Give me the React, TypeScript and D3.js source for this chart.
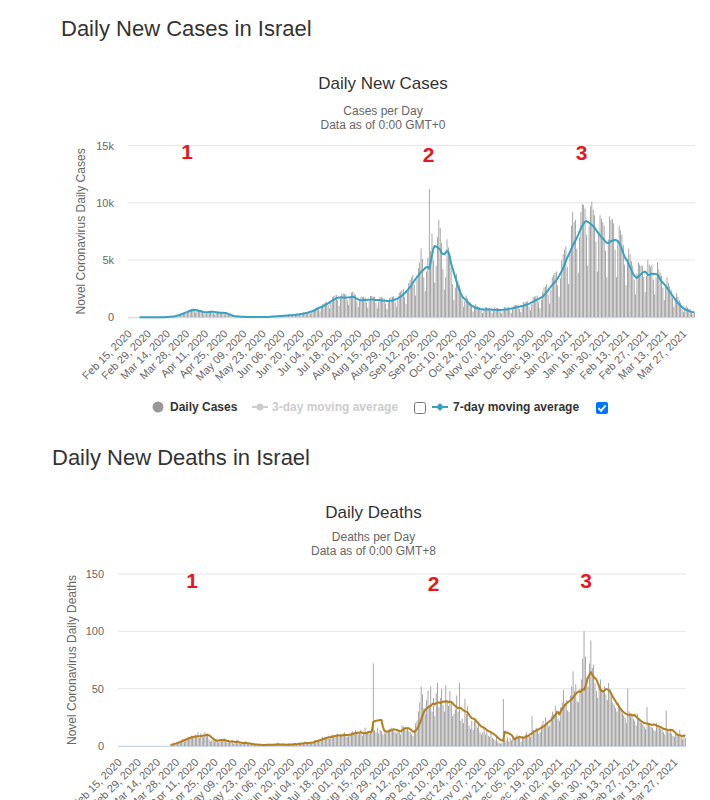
import React from 'react';
import * as d3 from 'd3';

// ---------- categories & labels ----------
const fmt = d3.timeFormat('%b %d, %Y');
const CATEGORIES: string[] = d3.timeDay.range(new Date(2020, 1, 15), new Date(2021, 3, 5)).map(fmt);

const X_TICK_LABELS = [
  'Feb 15, 2020', 'Feb 29, 2020', 'Mar 14, 2020', 'Mar 28, 2020', 'Apr 11, 2020', 'Apr 25, 2020',
  'May 09, 2020', 'May 23, 2020', 'Jun 06, 2020', 'Jun 20, 2020', 'Jul 04, 2020', 'Jul 18, 2020',
  'Aug 01, 2020', 'Aug 15, 2020', 'Aug 29, 2020', 'Sep 12, 2020', 'Sep 26, 2020', 'Oct 10, 2020',
  'Oct 24, 2020', 'Nov 07, 2020', 'Nov 21, 2020', 'Dec 05, 2020', 'Dec 19, 2020', 'Jan 02, 2021',
  'Jan 16, 2021', 'Jan 30, 2021', 'Feb 13, 2021', 'Feb 27, 2021', 'Mar 13, 2021', 'Mar 27, 2021',
];

const CASES_Y_TICKS = [0, 5000, 10000, 15000];
const CASES_Y_LABELS = ['0', '5k', '10k', '15k'];
const DEATHS_Y_TICKS = [0, 50, 100, 150];
const DEATHS_Y_LABELS = ['0', '50', '100', '150'];

// ---------- daily new cases (one value per day, Feb 15 2020 .. Apr 4 2021) ----------
const DAILY_CASES = [
  0,0,0,0,0,0,1,
  0,0,0,1,0,1,1,
  1,0,2,1,3,2,4,
  3,4,8,10,14,18,20,
  14,30,48,60,80,95,110,
  90,160,240,290,350,400,420,
  320,470,620,700,740,760,700,
  420,560,680,640,590,530,430,
  260,420,540,560,580,540,380,
  260,400,500,490,470,450,320,
  230,360,420,370,300,230,150,
  70,100,110,90,70,60,40,
  25,40,45,38,34,30,20,
  12,20,25,22,22,22,15,
  10,22,30,40,48,55,45,
  35,70,95,110,125,130,110,
  80,125,170,180,190,200,160,
  110,190,250,270,290,300,230,
  170,290,400,430,460,490,400,
  300,500,680,730,820,880,700,
  520,850,1150,1230,1300,1380,1050,
  780,1300,1750,1830,1920,1950,1500,
  1000,1650,2050,2080,2050,1980,1500,
  1100,1700,2150,2240,2100,1950,1400,
  900,1400,1800,1780,1780,1750,1300,
  850,1450,1850,1870,1800,1780,1250,
  800,1400,1800,1760,1720,1650,1200,
  750,1300,1700,1750,1800,1850,1350,
  900,1550,2150,2250,2350,2450,1800,
  1200,2200,3000,3250,3500,3700,2800,
  1900,3300,4300,4800,6000,5100,3500,
  2300,4000,5200,11200,5800,7300,5000,
  3000,4500,7000,8500,7800,6500,4200,
  2400,3500,6800,6100,5300,4400,2900,
  1500,2600,3800,3200,2800,2500,1800,
  900,1400,1900,1650,1450,1300,900,
  500,850,1150,1000,900,880,600,
  380,650,900,880,830,820,550,
  350,600,850,820,800,780,520,
  330,620,880,850,860,880,620,
  380,720,1050,1080,1080,1100,750,
  450,900,1300,1350,1350,1400,950,
  600,1150,1750,1800,1850,1900,1300,
  800,1500,2200,2600,2700,2900,2000,
  1200,2400,3500,3700,3900,4000,2800,
  1800,3400,5000,5500,5900,6200,4400,
  2900,5500,8000,9200,8300,8500,6000,
  3900,7000,9200,9900,9800,9500,7200,
  4500,8000,9700,10100,9400,8900,6600,
  4000,7500,8900,8600,8300,8000,5800,
  3500,6800,8800,8500,8600,8200,5900,
  3500,6600,8000,7600,7200,6300,4600,
  2800,5100,6000,5500,4900,4500,3300,
  2000,3800,4800,4600,4500,4500,3500,
  2200,3600,5000,4600,4400,4600,3300,
  2000,3500,4800,4200,3900,3600,2600,
  1500,2700,3500,3000,2700,2400,1700,
  900,1700,2100,1800,1500,1300,900,
  450,800,1000,850,750,700,480,
  280,450,
];

// ---------- 7-day moving average of cases ----------
const CASES_7DAY: (number | null)[] = [
  null,null,null,null,null,null,null,
  null,0,0,0,0,0,1,
  1,1,1,1,2,2,3,
  3,4,6,8,11,14,19,
  25,32,40,50,62,78,100,
  130,165,200,240,285,330,380,
  430,480,530,570,600,640,650,
  640,610,580,550,520,490,460,
  440,445,455,470,480,478,480,
  470,445,420,410,405,400,395,
  385,380,340,300,250,200,150,
  120,100,85,70,60,52,46,
  42,38,34,30,28,26,24,
  22,20,19,18,18,19,20,
  20,22,25,30,36,44,52,
  60,70,80,90,100,108,116,
  124,132,140,150,160,170,180,
  190,200,212,225,238,250,265,
  285,305,330,350,380,410,445,
  480,520,560,600,680,740,800,
  860,900,960,1020,1080,1150,1220,
  1300,1380,1450,1520,1600,1650,1700,
  1720,1740,1735,1730,1720,1710,1720,
  1740,1760,1780,1800,1760,1700,1620,
  1560,1510,1480,1490,1500,1510,1520,
  1530,1540,1550,1560,1545,1530,1520,
  1510,1500,1490,1480,1460,1450,1440,
  1430,1425,1420,1440,1470,1510,1550,
  1600,1660,1730,1800,1880,1980,2100,
  2230,2360,2500,2650,2820,3000,3170,
  3340,3500,3660,3820,3950,4070,4180,
  4300,4380,4400,4250,4800,5400,6000,
  6230,6180,6100,6000,5900,5600,5550,
  5500,5650,5800,5700,5300,4700,4300,
  3900,3500,3100,2700,2400,2100,1850,
  1700,1600,1450,1320,1200,1100,1020,
  950,880,830,790,760,730,710,
  700,690,690,685,680,680,675,
  670,660,650,645,640,640,645,
  650,660,670,690,710,725,740,
  760,790,820,850,880,900,930,
  960,990,1020,1050,1090,1130,1180,
  1240,1300,1360,1420,1490,1550,1610,
  1670,1730,1800,1920,2050,2200,2350,
  2520,2700,2820,2950,3100,3250,3420,
  3600,3820,4050,4300,4600,4900,5200,
  5450,5700,6000,6250,6480,6700,6950,
  7200,7500,7750,8000,8200,8330,8400,
  8350,8250,8150,8050,7950,7800,7650,
  7450,7300,7150,7000,6900,6750,6600,
  6500,6480,6550,6650,6700,6720,6750,
  6720,6650,6500,6250,5950,5600,5300,
  5050,4900,4650,4380,4100,3850,3650,
  3500,3450,3550,3650,3750,3880,3950,
  4000,3850,3700,3720,3760,3800,3800,
  3790,3780,3700,3550,3300,3150,3020,
  2900,2750,2580,2400,2220,2060,1900,
  1720,1560,1400,1260,1120,1000,900,
  800,720,660,610,560,520,480,
  450,420,
];

// ---------- daily deaths ----------
const DAILY_DEATHS = [
  0,0,0,0,0,0,0,
  0,0,0,0,0,0,0,
  0,0,0,0,0,0,0,
  0,0,0,0,0,0,0,
  0,0,0,0,0,0,0,
  0,0,0,1,1,1,2,
  2,3,4,3,5,6,4,
  6,7,8,6,9,7,8,
  10,8,12,7,11,9,8,
  12,10,11,6,4,5,6,
  4,6,5,3,6,4,5,
  7,5,3,4,4,3,5,
  2,4,5,3,3,2,3,
  3,2,4,2,2,2,1,
  1,2,1,1,1,2,1,
  0,1,1,1,1,2,1,
  1,1,2,1,3,1,1,
  1,2,1,1,1,2,2,
  1,2,2,2,1,2,3,
  2,3,2,4,3,2,3,
  2,3,4,5,5,4,6,
  4,6,8,7,8,7,9,
  6,9,10,9,8,10,11,
  8,10,9,11,12,10,8,
  9,11,12,13,11,14,12,
  10,12,14,9,11,16,12,
  13,11,12,15,72,14,12,
  16,11,14,13,10,12,11,
  12,14,15,16,14,13,12,
  11,15,13,10,18,17,16,
  14,16,13,12,10,9,14,
  20,22,30,38,52,45,33,
  28,40,48,36,52,30,42,
  26,46,55,34,42,50,36,
  30,53,40,35,48,38,26,
  28,32,44,30,55,22,24,
  20,41,28,35,18,15,22,
  14,22,24,16,20,12,10,
  12,15,10,14,9,8,11,
  7,6,5,8,4,3,2,
  3,41,6,5,8,4,7,
  5,9,6,8,10,7,9,
  4,8,7,10,12,9,11,
  8,26,14,12,16,15,11,
  12,18,22,19,25,21,17,
  18,26,30,28,35,31,24,
  22,34,38,49,37,40,31,
  30,44,52,65,48,54,39,
  38,50,58,76,100,78,60,
  52,72,92,68,71,55,48,
  42,54,58,50,47,52,45,
  40,55,50,44,38,36,33,
  30,38,35,32,29,27,25,
  20,50,30,26,28,24,22,
  18,28,24,22,20,19,17,
  15,34,20,18,17,16,14,
  13,20,18,16,15,14,12,
  10,31,14,12,15,11,9,
  8,12,10,9,14,8,6,
  10,7,
];

// ---------- 7-day moving average of deaths ----------
const DEATHS_7DAY: (number | null)[] = [
  null,null,null,null,null,null,null,
  null,null,null,null,null,null,null,
  null,null,null,null,null,null,null,
  null,null,null,null,null,null,null,
  null,null,null,null,null,null,null,
  null,null,null,1,1.3,1.6,2,
  2.3,2.7,3.1,3.6,4.1,4.6,5.1,
  5.6,6.1,6.6,7,7.4,7.8,8.1,
  8.3,8.4,8.5,8.6,8.7,8.9,9.2,
  9.4,9.6,9.6,9.3,8.5,7.4,6.5,
  5.6,5,4.6,4.7,5,5.2,5,
  5.2,5,4.6,4.3,4,3.9,4.1,
  3.8,3.5,3.6,3.9,3.4,3,2.8,
  2.7,2.6,2.9,2.5,2.3,2.2,2,
  1.8,1.6,1.4,1.3,1.2,1.1,1,
  0.9,0.9,0.9,1,1,1.1,1,
  1,1.1,1.1,1.3,1.4,1.6,1.3,
  1.3,1.4,1.3,1.2,1.1,1.3,1.4,
  1.4,1.4,1.6,1.7,1.6,1.7,1.9,
  2,2.1,2.3,2.4,2.6,2.7,2.7,
  2.8,2.9,3.1,3.4,3.9,4.3,4.6,
  5,5.5,5.9,6.3,6.7,7.1,7.4,
  7.6,7.8,8.1,8.4,8.7,8.9,9.1,
  9.1,9.3,9.2,9.4,9.6,9.7,9.6,
  9.7,9.9,10.1,10.4,10.9,11.3,11.4,
  11.6,11.7,11.9,11.6,11.4,11.1,11.4,
  11.8,12.3,12.5,12.6,21,21.6,22,
  22.2,22.4,22.7,22.6,17,13.5,12.8,
  12.5,12.8,13.2,13.6,14.2,14.6,14.3,
  14,13.6,13.2,12.8,13.5,14.6,15.3,
  15.5,15.6,15.4,14.6,13.8,12.7,12.5,
  13.5,15,17,20,23,26.5,29.5,
  31.5,32.8,33.8,34.5,35,36.3,37.2,
  36.5,37.3,37.9,38,37.4,38.2,38.8,
  38.5,39,38.8,38.2,38.8,38.5,37.3,
  36,34.8,33.6,33,33.5,33,32,
  31,30.3,30,29,27.5,25.5,24.2,
  24,23.5,22,21,19.5,18,16.9,
  16.5,15.8,15,14,13.2,12.5,12,
  11.2,10.5,9.6,8.5,7.4,6.3,5.2,
  5,4.4,12.5,11.6,11.8,11,10.4,
  9.6,8.2,5.9,6.3,7.3,7.6,8,
  7.4,7.6,7.2,7.7,8.3,8.9,9.6,
  10.3,11.2,12.5,12.9,13.4,14,14.6,
  15.4,16,16.9,17.4,18.5,19.6,20.8,
  21.8,22.5,24,25.4,27,28.4,29.6,
  27.5,30.3,32.5,34,35.6,36.8,38.3,
  38.8,39.5,41,42.3,44,45.5,46.8,
  47.5,47,48,49.5,49,52,56,
  60,62.5,64.5,62,60.5,59,58,
  55,52,49,48,47.5,48.5,49.6,
  49.6,48.5,47.6,45.5,43,41,39,
  37,35.5,33.8,32,30.5,29.5,28.5,
  28,27,26.8,27.5,27,26.5,27.2,
  25.7,24.5,23.5,22.5,21.5,20.8,20,
  19.8,19.6,19.4,19,18.6,18.5,18.8,
  18.4,17.9,17.5,17,16.5,15.8,15,
  14.6,14.6,14,13.8,14.2,14,13.5,
  12.5,11.2,10,9.6,9.4,9,8.5,
  9.2,8.7,
];

const FONT = "'Liberation Sans', Arial, Helvetica, sans-serif";
const NARROW = "'Liberation Sans Narrow', 'Liberation Sans', Arial, sans-serif";

type Marker = { label: string; x: number; y: number };

type ChartProps = {
  x0: number; x1: number; yTop: number; yBottom: number; yMax: number;
  yTicks: number[]; yLabels: string[];
  bars: number[]; line: (number | null)[]; lineColor: string;
  yTitle: string; yTitleX: number;
  markers: Marker[];
};

function Chart(p: ChartProps) {
  const x = d3.scaleBand<string>().domain(CATEGORIES).range([p.x0, p.x1]).paddingInner(0.45).paddingOuter(0.225);
  const y = d3.scaleLinear().domain([0, p.yMax]).range([p.yBottom, p.yTop]);
  const bw = x.bandwidth();
  const cx = (c: string) => (x(c) as number) + bw / 2;
  const lineGen = d3.line<number | null>()
    .defined((d) => d != null)
    .x((_, i) => cx(CATEGORIES[i]))
    .y((d) => y(d as number));
  const midY = (p.yTop + p.yBottom) / 2;
  return (
    <g>
      {p.yTicks.map((t, i) => (
        <g key={'g' + t}>
          <line x1={p.x0} x2={p.x1} y1={y(t)} y2={y(t)} stroke="#e6e6e6" strokeWidth={1} />
          <text x={p.x0 - 14} y={y(t) + 4} textAnchor="end" fontSize={11} fill="#666" fontFamily={FONT}>
            {p.yLabels[i]}
          </text>
        </g>
      ))}
      <text
        transform={`translate(${p.yTitleX},${midY}) rotate(-90)`}
        textAnchor="middle" dominantBaseline="central" fontSize={12} fill="#666" fontFamily={FONT}
      >
        {p.yTitle}
      </text>
      {p.bars.map((v, i) =>
        v > 0 ? (
          <rect key={'b' + i} x={x(CATEGORIES[i])} y={y(v)} width={bw} height={p.yBottom - y(v)} fill="#8c8c8c" />
        ) : null
      )}
      <line x1={p.x0} x2={p.x1} y1={p.yBottom + 0.5} y2={p.yBottom + 0.5} stroke="#ccd6eb" strokeWidth={1} />
      <path d={lineGen(p.line) || ''} fill="none" stroke={p.lineColor} strokeWidth={2} strokeLinejoin="round" />
      {X_TICK_LABELS.map((lab) => (
        <text
          key={lab}
          transform={`translate(${cx(lab) + 4},${p.yBottom + 17}) rotate(-45)`}
          textAnchor="end" fontSize={11} fill="#666" fontFamily={FONT}
        >
          {lab}
        </text>
      ))}
      {p.markers.map((m) => (
        <text key={m.label} x={m.x} y={m.y} textAnchor="middle" fontSize={21} fontWeight="bold" fill="#e8171f" fontFamily={NARROW}>
          {m.label}
        </text>
      ))}
    </g>
  );
}

function Checkbox({ x, y, checked }: { x: number; y: number; checked: boolean }) {
  return checked ? (
    <g>
      <rect x={x} y={y} width={12} height={12} rx={2} fill="#0075ff" />
      <path d={`M${x + 2.5},${y + 6.2} L${x + 5},${y + 8.8} L${x + 9.6},${y + 3.4}`} fill="none" stroke="#fff" strokeWidth={1.8} />
    </g>
  ) : (
    <rect x={x + 0.5} y={y + 0.5} width={11} height={11} rx={2} fill="#fff" stroke="#767676" strokeWidth={1} />
  );
}

export default function App() {
  const teal = '#37a1c3';
  const gold = '#b47d1e';
  const ly = 407;
  return (
    <svg width={710} height={800} style={{ position: 'absolute', left: 0, top: 0, background: '#fff' }} fontFamily={FONT}>
      <rect x={0} y={0} width={710} height={800} fill="#fff" />
      {/* Cases section */}
      <text x={61} y={36} fontSize={22} fill="#333">Daily New Cases in Israel</text>
      <text x={383} y={89} fontSize={17} fill="#333" textAnchor="middle">Daily New Cases</text>
      <text x={383} y={115} fontSize={12} fill="#666" textAnchor="middle">Cases per Day</text>
      <text x={383} y={129} fontSize={12} fill="#666" textAnchor="middle">Data as of 0:00 GMT+0</text>
      <Chart
        x0={128} x1={695} yTop={145.5} yBottom={317.3} yMax={15000}
        yTicks={CASES_Y_TICKS} yLabels={CASES_Y_LABELS}
        bars={DAILY_CASES} line={CASES_7DAY} lineColor={teal}
        yTitle="Novel Coronavirus Daily Cases" yTitleX={81}
        markers={[{ label: '1', x: 187, y: 159 }, { label: '2', x: 428.5, y: 162 }, { label: '3', x: 581.5, y: 160 }]}
      />
      {/* Legend */}
      <circle cx={158} cy={ly} r={5.5} fill="#999" />
      <text x={170} y={ly + 4} fontSize={12} fontWeight="bold" fill="#333">Daily Cases</text>
      <line x1={252} x2={268} y1={ly} y2={ly} stroke="#ccc" strokeWidth={2} />
      <circle cx={260} cy={ly} r={3.5} fill="#ccc" />
      <text x={272} y={ly + 4} fontSize={12} fontWeight="bold" fill="#ccc">3-day moving average</text>
      <Checkbox x={414} y={402} checked={false} />
      <line x1={432} x2={448} y1={ly} y2={ly} stroke={teal} strokeWidth={2} />
      <path d={`M440,${ly - 4} L444,${ly} L440,${ly + 4} L436,${ly} Z`} fill={teal} />
      <text x={453} y={ly + 4} fontSize={12} fontWeight="bold" fill="#333">7-day moving average</text>
      <Checkbox x={596} y={402} checked={true} />

      {/* Deaths section */}
      <text x={52} y={465} fontSize={22} fill="#333">Daily New Deaths in Israel</text>
      <text x={373.5} y={518} fontSize={17} fill="#333" textAnchor="middle">Daily Deaths</text>
      <text x={373.5} y={541} fontSize={12} fill="#666" textAnchor="middle">Deaths per Day</text>
      <text x={373.5} y={555} fontSize={12} fill="#666" textAnchor="middle">Data as of 0:00 GMT+8</text>
      <Chart
        x0={118} x1={686} yTop={574} yBottom={746} yMax={150}
        yTicks={DEATHS_Y_TICKS} yLabels={DEATHS_Y_LABELS}
        bars={DAILY_DEATHS} line={DEATHS_7DAY} lineColor={gold}
        yTitle="Novel Coronavirus Daily Deaths" yTitleX={71.5}
        markers={[{ label: '1', x: 192, y: 588 }, { label: '2', x: 433.5, y: 591 }, { label: '3', x: 586, y: 588 }]}
      />
    </svg>
  );
}
